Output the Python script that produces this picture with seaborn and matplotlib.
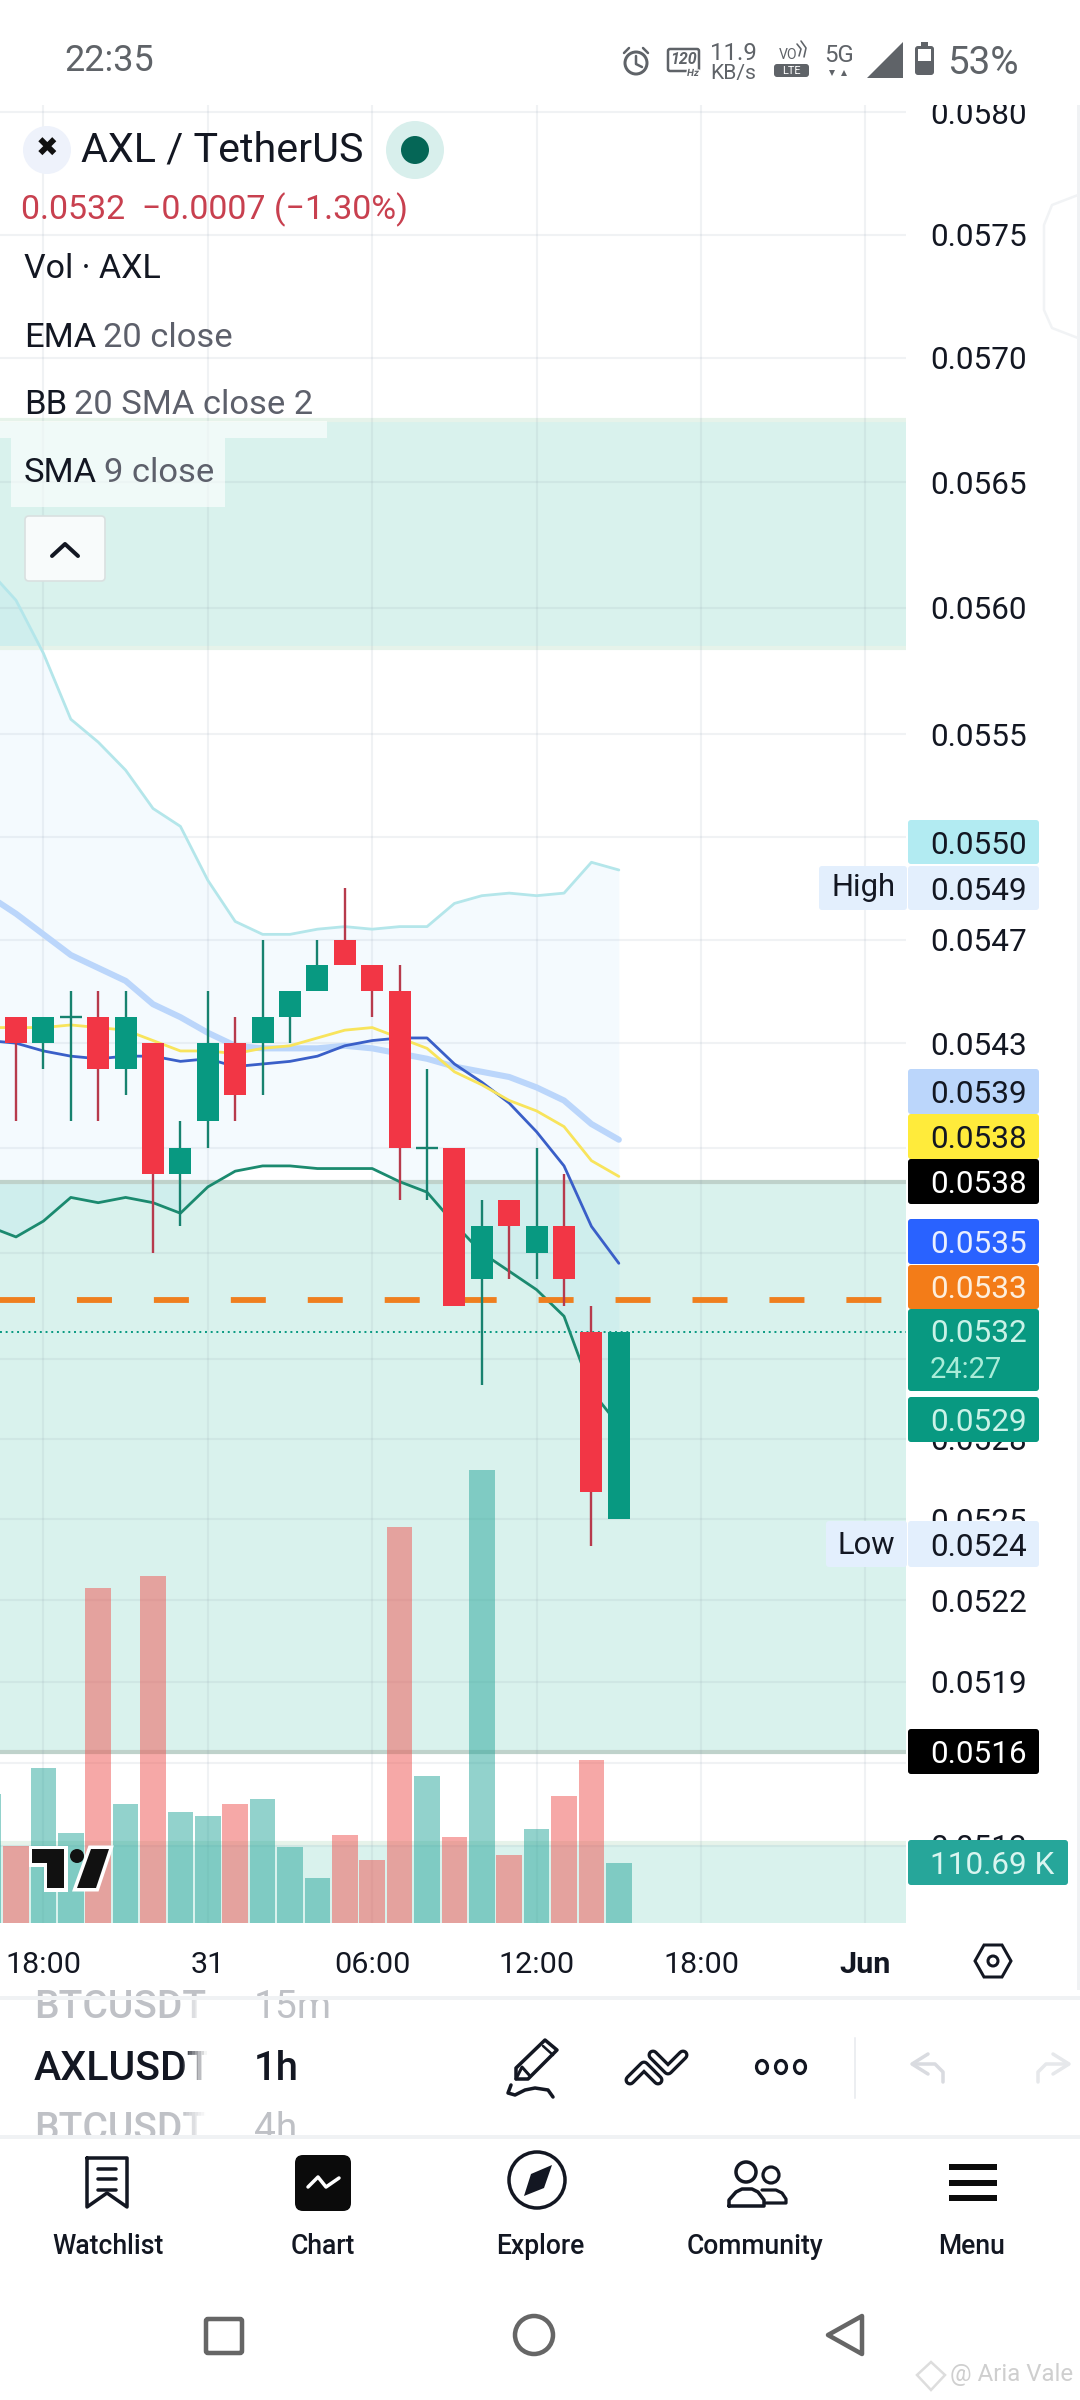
import matplotlib
matplotlib.use("Agg")
import numpy as np
import pandas as pd
import seaborn as sns
import matplotlib.pyplot as plt
from matplotlib.patches import Rectangle, FancyBboxPatch, Circle, Polygon, Ellipse
from matplotlib.ticker import NullLocator
import matplotlib.patheffects as pe

# ---------- data ----------
idx = list(range(-1, 23))
opens  = [.0543,.0544,.0543,.0544,.0544,.0542,.0543,.0538,.0540,.0543,.0543,.0544,.0545,.0547,.0546,.0545,.0539,.0539,.0534,.0537,.0535,.0536,.0532,.0525]
closes = [.0544,.0543,.0544,.0544,.0542,.0544,.0538,.0539,.0543,.0541,.0544,.0545,.0546,.0546,.0545,.0539,.0539,.0533,.0536,.0536,.0536,.0534,.0526,.0532]
highs  = [.0545,.0544,.0544,.0545,.0545,.0545,.0543,.0540,.0545,.0544,.0547,.0545,.0547,.0549,.0546,.0546,.0542,.0539,.0537,.0537,.0539,.0538,.0533,.0532]
lows   = [.0543,.0540,.0542,.0540,.0540,.0541,.0535,.0536,.0539,.0540,.0541,.0543,.0545,.0546,.0544,.0537,.0537,.0533,.0530,.0534,.0534,.0533,.0524,.0525]

volume = [238.6,142.8,286.8,166.2,621,220,643,205,198,220,229,140,83,162.5,116,734,272,159,840,125.5,174,235,303,110.69]

bb_upper = [.05615,.05603,.05582,.05556,.05547,.05536,.05521,.05514,.05493,.05477,.05472,.05472,.05474,.05475,.05474,.05475,.05475,.05484,.05487,.05488,.05487,.05488,.05500,.05497]
bb_basis = [.05487,.05480,.05472,.05464,.05459,.05454,.05445,.05440,.05434,.05429,.05428,.05428,.05428,.05429,.05428,.05426,.05424,.05421,.05419,.05417,.05413,.05408,.05399,.05393]
bb_lower = [.05360,.05356,.05362,.05371,.05369,.05371,.05369,.05365,.05375,.05381,.05383,.05383,.05382,.05382,.05382,.05377,.05373,.05361,.05350,.05343,.05336,.05326,.05298,.05285]
ema_line = [.05436,.05436,.05436,.05437,.05436,.05435,.05431,.05427,.05427,.05426,.05428,.05429,.05432,.05435,.05436,.05432,.05428,.05419,.05414,.05408,.05404,.05398,.05385,.05379]
sma_line = [.05431,.05430,.05427,.05425,.05424,.05425,.05425,.05423,.05424,.05421,.05422,.05423,.05425,.05429,.05431,.05432,.05432,.05422,.05415,.05407,.05396,.05383,.05360,.05346]

price_ticks = [.0580,.0575,.0570,.0565,.0560,.0555,.0551,.0547,.0543,.0539,.0535,.0531,.0528,.0525,.0522,.0519,.0516,.0513]
# labels of the ticks that the price tags cover completely are left out
covered_ticks = [.0551, .0539, .0535, .0531, .0516]
time_ticks = [1, 7, 13, 19, 25, 31]
time_labels = ["18:00", "31", "06:00", "12:00", "18:00", "Jun"]

zone_upper = (.05584, .05675)
zone_middle = (.05164, .05377)
zone_lower = (.05100, .05131)
order_price = .05332
last_price = .0532

pill_labels = ["0.0550","0.0549","0.0539","0.0538","0.0538","0.0535","0.0533","0.0529","0.0524","0.0516"]

# ---------- style ----------
sns.set_theme(style="white")
plt.rcParams["font.family"] = ["Roboto", "DejaVu Sans"]
plt.rcParams["lines.scale_dashes"] = False
plt.rcParams["axes.unicode_minus"] = False

W, H = 1080, 2400
fig = plt.figure(figsize=(10.8, 24), dpi=100, facecolor="white")
def rect(l, t, r, b):
    return [l / W, 1 - b / H, (r - l) / W, (b - t) / H]
PANE = rect(0, 105, 906, 1923)
px = lambda p: p * 0.72

GREEN, RED = "#089981", "#f23645"
XLIM = (-0.584, 32.48)
YLIM = (.05102, .05803)

# ---------- background pane: grid, zones, band fill ----------
ax_z = fig.add_axes(PANE, zorder=0, facecolor="white")
ax_z.set_yscale("log")
for s in ax_z.spines.values():
    s.set_visible(False)
ax_z.fill_between(idx, bb_lower, bb_upper, color="#2aa4f0", alpha=0.05, lw=0, zorder=1)
for lo, hi in (zone_upper, zone_middle, zone_lower):
    ax_z.axhspan(lo, hi, facecolor="#00aa8c", alpha=0.15, lw=0, zorder=1.2)
ax_z.hlines([zone_upper[0], zone_upper[1], zone_lower[1]], *XLIM, color="#e6f3ea", lw=3, zorder=1.3)
ax_z.hlines(list(zone_middle), *XLIM, color="#bfd2cb", lw=3, zorder=1.3)
ax_z.set_xlim(*XLIM); ax_z.set_ylim(*YLIM)
ax_z.set_xticks(time_ticks); ax_z.set_yticks(price_ticks)
ax_z.yaxis.set_minor_locator(NullLocator())
ax_z.tick_params(length=0, labelleft=False, labelbottom=False, which="both")
ax_z.grid(True, axis="both", color="#7f8ea3", alpha=0.11, lw=1.5, zorder=0.5)
ax_z.set_axisbelow(False)

# ---------- volume pane ----------
ax_v = fig.add_axes(PANE, zorder=1, facecolor="none")
vdf = pd.DataFrame({"i": idx, "v": volume,
                    "d": ["up" if c >= o else "down" for o, c in zip(opens, closes)]})
sns.barplot(data=vdf, x="i", y="v", hue="d", palette={"up": "#26a69a", "down": "#ef5350"},
            native_scale=True, dodge=False, width=0.93, saturation=1, alpha=0.5,
            errorbar=None, legend=False, linewidth=0, ax=ax_v)
ax_v.set_xlim(*XLIM)
ax_v.set_ylim(0, 3370)
ax_v.axis("off")

# ---------- price pane ----------
ax = fig.add_axes(PANE, zorder=2, facecolor="none")
ax.set_yscale("log")
for s in ax.spines.values():
    s.set_visible(False)

for vals, col, lw in ((bb_upper, "#b4e6ea", 2.0), (bb_basis, "#bbd6fb", 4.4), (bb_lower, "#1b8a6f", 2.0),
                      (sma_line, "#3a5fc8", 2.0), (ema_line, "#f8e45c", 2.0)):
    sns.lineplot(x=idx, y=vals, color=col, linewidth=lw, errorbar=None, sort=False,
                 legend=False, zorder=3, ax=ax)

ax.axhline(order_price, color="#ef7f1f", lw=4.2, ls=(0, (25.2, 30.2)), zorder=4)
ax.axhline(last_price, color=GREEN, lw=1.4, ls=(0, (1.4, 2.7)), zorder=4)

for i, o, c, h, l in zip(idx, opens, closes, highs, lows):
    col = GREEN if c >= o else RED
    wick = "#17826f" if c >= o else "#b73a4c"
    ax.vlines(i, l, h, color=wick, lw=1.7, zorder=5)
    if o == c:
        ax.hlines(o, i - 0.4, i + 0.4, color=wick, lw=1.7, zorder=5)
    else:
        ax.bar(i, abs(c - o), bottom=min(o, c), width=0.8, color=col, lw=0, zorder=6)

ax.set_xlim(*XLIM)
ax.set_ylim(*YLIM)
ax.set_xticks(time_ticks)
ax.set_xticklabels(time_labels)
ax.set_yticks(price_ticks)
ax.set_yticklabels(["" if p in covered_ticks else f"{p:.4f}" for p in price_ticks])
ax.yaxis.set_minor_locator(NullLocator())
ax.yaxis.tick_right()
ax.tick_params(axis="y", length=0, pad=px(24), labelsize=px(31.5), labelcolor="#131722")
ax.tick_params(axis="x", length=0, pad=px(28), labelsize=px(30.5), labelcolor="#131722")
ax.get_xticklabels()[-1].set_fontweight("bold")
ax.set_xlabel(""); ax.set_ylabel("")

# ---------- interface overlay in pixel coordinates ----------
ui = fig.add_axes([0, 0, 1, 1], zorder=5, facecolor="none")
ui.set_xlim(0, W); ui.set_ylim(H, 0); ui.axis("off")

def T(x, y, s, size, color="#131722", ha="left", va="center", weight="normal", **k):
    return ui.text(x, y + 5, s, fontsize=px(size), color=color, ha=ha, va=va, fontweight=weight, **k)
def R(x0, y0, x1, y1, color, z=1, **k):
    ui.add_patch(Rectangle((x0, y0), x1 - x0, y1 - y0, facecolor=color, edgecolor="none", zorder=z, **k))
def pill(x0, y0, x1, y1, color, z=2):
    ui.add_patch(FancyBboxPatch((x0 + 3, y0 + 3), x1 - x0 - 6, y1 - y0 - 6, boxstyle="round,pad=3",
                                facecolor=color, edgecolor="none", zorder=z))
def L(xs, ys, color="#131722", lw=3, z=3, **k):
    ui.plot(xs, ys, color=color, lw=px(lw), zorder=z, solid_capstyle="round", solid_joinstyle="round", **k)

R(0, 0, W, 105, "white", z=0.5)

# status bar
GREY = "#5f6368"
T(64, 56, "22:35", 36, GREY)
ui.add_patch(Circle((636, 63), 11, fill=False, ec=GREY, lw=px(3), zorder=3))
L([636, 636, 642], [56, 64, 67], GREY, 2.5)
L([624, 629], [53, 48], GREY, 2.5); L([643, 648], [48, 53], GREY, 2.5)
ui.add_patch(FancyBboxPatch((670, 51), 27, 18, boxstyle="round,pad=2", fill=False, ec=GREY, lw=px(2.5), zorder=3))
T(683, 55, "120", 16, GREY, ha="center", style="italic", weight="bold")
T(693, 68, "Hz", 10, GREY, ha="center", style="italic", weight="bold", zorder=4,
  path_effects=[pe.withStroke(linewidth=2, foreground="white")])
T(733, 48, "11.9", 24, GREY, ha="center")
T(733, 68, "KB/s", 21, GREY, ha="center")
T(788, 50, "VO", 14, GREY, ha="center")
L([797, 801, 799], [44, 49, 56], GREY, 1.6); L([801, 806, 804], [41, 48, 57], GREY, 1.6)
pill(774, 64, 809, 77, GREY)
T(791, 66, "LTE", 11, "white", ha="center", zorder=4)
T(839, 50, "5G", 24, GREY, ha="center")
ui.add_patch(Polygon([(829, 70), (835, 70), (832, 76)], fc=GREY, ec="none", zorder=3))
ui.add_patch(Polygon([(841, 76), (847, 76), (844, 70)], fc=GREY, ec="none", zorder=3))
ui.add_patch(Polygon([(867, 78), (903, 42), (903, 78)], fc=GREY, ec="none", zorder=3))
pill(915, 46, 934, 75, GREY); R(921, 42, 928, 47, GREY, z=3)
R(918, 49, 931, 61, "white", z=3)
T(947, 58, "53%", 38.5, GREY)

# legend block
R(0, 421, 327, 438, "white", z=1, alpha=0.62)
R(11, 438, 225, 507, "white", z=1, alpha=0.62)
ui.add_patch(Circle((47, 150), 24, fc="#eef2fb", ec="none", zorder=2))
T(47, 145, "✖", 27, "#111111", ha="center", family=["DejaVu Sans"], zorder=3, weight="bold")
T(81, 145, "AXL / TetherUS", 41.3)
ui.add_patch(Ellipse((415, 150), 58, 58, fc="#d8efec", ec="none", zorder=2))
ui.add_patch(Circle((415, 150), 14, fc="#056656", ec="none", zorder=3))
T(21, 205, "0.0532  −0.0007 (−1.30%)", 34, "#c8404f")
T(24, 264, "Vol · AXL", 34)
for y, a, a_off, b in ((333, "EMA", 79, "20 close"), (400, "BB", 50, "20 SMA close 2"), (468, "SMA", 80, "9 close")):
    T(24, y, a, 34.5)
    T(24 + a_off, y, b, 34.5, "#5d606b")
ui.add_patch(FancyBboxPatch((29, 520), 72, 57, boxstyle="round,pad=4", fc="#f8fbfb", ec="#d9e0e0", lw=1.2, zorder=2))
L([52, 65, 78], [556, 544, 556], "#131722", 4)

# faint side handle
L([1078, 1052, 1044, 1044, 1052, 1078], [195, 205, 225, 310, 328, 338], "#f1f3f5", 2.5)
R(1077, 105, 1080, 1990, "#f0f2f4", z=0.6)

# price pills
pills = [(820, 864, "#b2ebf2", "#131722", pill_labels[0]), (866, 910, "#e3effd", "#131722", pill_labels[1]),
         (1069, 1114, "#bbd6fb", "#131722", pill_labels[2]), (1114, 1159, "#ffeb3b", "#131722", pill_labels[3]),
         (1159, 1204, "#000000", "white", pill_labels[4]), (1219, 1264, "#2962ff", "#e9efff", pill_labels[5]),
         (1265, 1309, "#f37c18", "#fdeedd", pill_labels[6]), (1397, 1442, "#089981", "#c9f2e7", pill_labels[7]),
         (1521, 1567, "#e3effd", "#131722", pill_labels[8]), (1729, 1774, "#000000", "white", pill_labels[9])]
for t, b, c, tc, s in pills:
    pill(908, t, 1039, b, c)
    T(930, (t + b) / 2 - 2, s, 31.5, tc, zorder=4)
pill(908, 1309, 1039, 1391, "#089981")
T(930, 1328, "0.0532", 31.5, "#c9f2e7", zorder=4)
T(930, 1365, "24:27", 29, "#a9ecd8", zorder=4)
pill(908, 1840, 1068, 1885, "#26a69a")
T(930, 1860, "110.69 K", 31.5, "#d9f5f0", zorder=4)
pill(819, 866, 907, 910, "#e3effd"); T(863, 882, "High", 31, ha="center", zorder=4)
pill(826, 1521, 907, 1567, "#e3effd"); T(866, 1541, "Low", 31, ha="center", zorder=4)

# TradingView logo
effects = [pe.withStroke(linewidth=px(7), foreground="white")]
for poly in ([(32, 1849), (64, 1849), (64, 1888), (47, 1888), (47, 1863), (32, 1863)],
             [(91, 1849), (109, 1849), (96, 1888), (77, 1888)]):
    ui.add_patch(Polygon(poly, fc="#111111", ec="none", zorder=3, path_effects=effects))
ui.add_patch(Ellipse((77, 1856), 14, 14, fc="#111111", ec="none", zorder=3))

# settings hexagon in time axis
ui.add_patch(Polygon([(975, 1961), (984, 1945), (1002, 1945), (1011, 1961), (1002, 1977), (984, 1977)],
                     fill=False, ec="#131722", lw=px(3), zorder=3))
ui.add_patch(Circle((993, 1961), 5, fill=False, ec="#131722", lw=px(3), zorder=3))

# lower panels
T(34, 2003, "BTCUSDT", 39, "#bfc1c6", weight="medium", zorder=1)
T(254, 2003, "15m", 39, "#bfc1c6", zorder=1)
T(34, 2125, "BTCUSDT", 39, "#bfc1c6", weight="medium", zorder=1)
T(254, 2125, "4h", 39, "#bfc1c6", zorder=1)
R(0, 1996, W, 2000, "#f0f2f4", z=2)
R(0, 2135, W, 2139, "#f0f2f4", z=2)
R(0, 2139, W, 2155, "white", z=1.5)
T(34, 2064, "AXLUSDT", 41, "#131722", weight="medium", zorder=1)
T(254, 2064, "1h", 40, "#131722", weight="medium", zorder=1)
R(207, 2000, 250, 2135, "white", z=1.5)
for k in range(8):
    R(183 + 3 * k, 2000, 186 + 3 * k, 2135, "white", z=1.4, alpha=0.12 * (k + 1))

# toolbar icons
ui.add_patch(Polygon([(516, 2068), (545, 2040), (557, 2050), (528, 2079), (516, 2079)], fill=False,
                     ec="#131722", lw=px(3.5), joinstyle="round", zorder=3))
L([516, 522, 530], [2079, 2067, 2076], "#131722", 3)
L([543, 553], [2046, 2055], "#131722", 2.5)
L([511, 508, 515, 525, 535, 548, 553], [2085, 2093, 2095, 2090, 2088, 2090, 2097], "#131722", 3.5)
for xs, ys in (([630, 644, 658], [2080, 2066, 2080]), ([653, 668, 683], [2055, 2070, 2055])):
    L(xs, ys, "#131722", 11)
    L(xs, ys, "white", 4.5, z=3.5)
for cx in (762, 781, 800):
    ui.add_patch(Ellipse((cx, 2067), 11, 13, fill=False, ec="#131722", lw=px(3.2), zorder=3))
L([855, 855], [2038, 2098], "#eceef1", 2)
L([928, 912, 928], [2054, 2064, 2074], "#d9dbe0", 3.5)
L([913, 935, 943, 943], [2064, 2064, 2072, 2082], "#d9dbe0", 3.5)
L([1053, 1069, 1053], [2054, 2064, 2074], "#e6e8eb", 3.5)
L([1068, 1046, 1038, 1038], [2064, 2064, 2072, 2082], "#e6e8eb", 3.5)

# bottom navigation
nav_labels = ["Watchlist", "Chart", "Explore", "Community", "Menu"]
nav_x = [108, 323, 540, 755, 972]
for x, s in zip(nav_x, nav_labels):
    T(x, 2241, s, 26.5, "#131722", ha="center", weight="medium")
L([87, 127, 127, 107, 87, 87], [2158, 2158, 2207, 2193, 2207, 2158], "#131722", 3.5)
for y in (2169, 2179, 2190):
    L([98, 116], [y, y], "#131722", 3.5)
ui.add_patch(FancyBboxPatch((303, 2163), 40, 40, boxstyle="round,pad=8", fc="#0b0b0b", ec="none", zorder=2))
L([308, 318, 326, 339], [2187, 2177, 2187, 2178], "white", 3.5)
ui.add_patch(Circle((537, 2180), 28, fill=False, ec="#131722", lw=px(3.5), zorder=3))
ui.add_patch(Polygon([(552, 2165), (544, 2188), (524, 2196), (531, 2174)], fc="#131722", ec="none", zorder=3))
ui.add_patch(Circle((746, 2172), 10, fill=False, ec="#131722", lw=px(3.5), zorder=3))
ui.add_patch(Circle((771, 2175), 8, fill=False, ec="#131722", lw=px(3.2), zorder=3))
L([729, 729, 736, 742, 752, 758, 764, 764, 729], [2206, 2200, 2192, 2189, 2189, 2192, 2200, 2206, 2206], "#131722", 3.5)
L([762, 776, 782, 786, 786, 766], [2190, 2190, 2193, 2199, 2203, 2203], "#131722", 3.2)
for y in (2167, 2183, 2198):
    R(949, y - 3, 997, y + 3, "#0b0b0b", z=3)

# system navigation
ui.add_patch(FancyBboxPatch((208, 2321), 32, 30, boxstyle="round,pad=2", fill=False, ec="#666666", lw=px(4.5), zorder=3))
ui.add_patch(Circle((534, 2335), 19, fill=False, ec="#666666", lw=px(4.5), zorder=3))
ui.add_patch(Polygon([(862, 2316), (828, 2335), (862, 2354)], closed=True, fill=False, ec="#666666", lw=px(4.5), joinstyle="round", zorder=3))
T(1073, 2370, "@ Aria Vale", 24, "#cfcfcf", ha="right")
ui.add_patch(Polygon([(931, 2362), (945, 2375), (931, 2390), (917, 2375)], fill=False, ec="#dddddd", lw=px(2.5), zorder=3))

fig.savefig("out.png", dpi=100, facecolor="white")
